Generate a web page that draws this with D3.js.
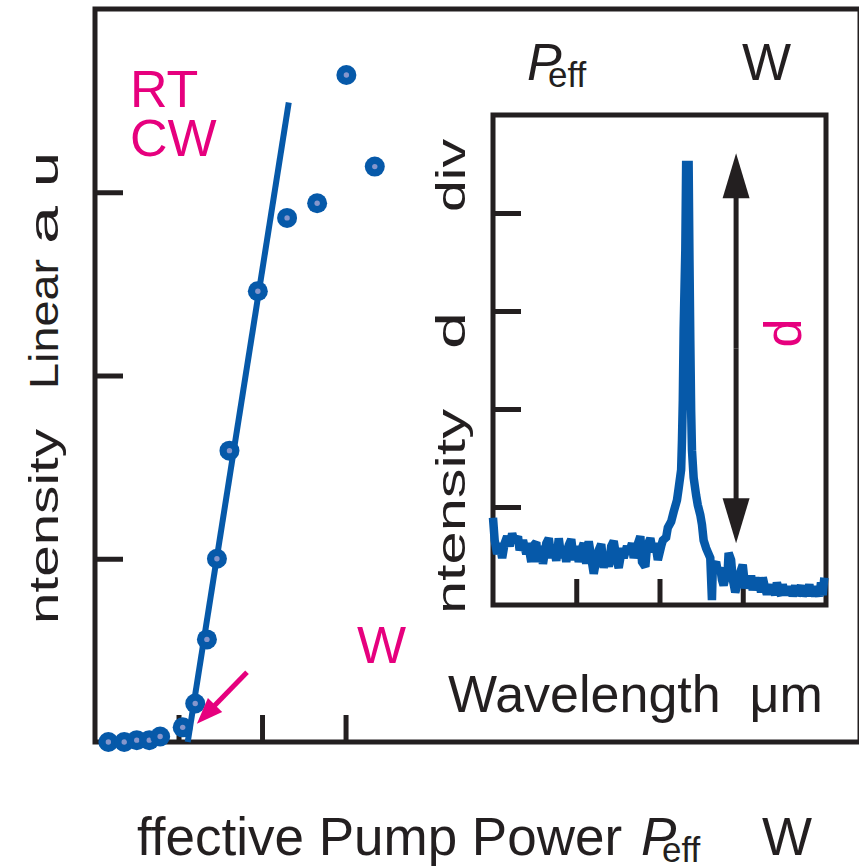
<!DOCTYPE html>
<html>
<head>
<meta charset="utf-8">
<script src="https://cdn.jsdelivr.net/npm/d3@7"></script>
<style>
  body { margin: 0; background: #fff; }
  svg { display: block; }
  text { font-family: "Liberation Sans", Arial, Helvetica, sans-serif; white-space: pre; }
</style>
</head>
<body>
<svg id="chart" width="859" height="867"></svg>
<script>
// ---- Main panel: L-L curve (effective pump power vs. output intensity) ----
const pumpPower = [0.16, 0.35, 0.50, 0.65, 0.78, 1.05, 1.20, 1.34, 1.46, 1.61, 1.95, 2.30, 2.66, 3.01, 3.35];
const outputIntensity = [0.00, 0.00, 0.01, 0.01, 0.03, 0.08, 0.21, 0.56, 1.00, 1.59, 2.46, 2.86, 2.94, 3.64, 3.14];
// linear fit above threshold
const fitPower = [1.11, 2.32];
const fitIntensity = [0.00, 3.49];
const mainXTicks = [1, 2, 3];
const mainYTicks = [1, 2, 3];
// threshold pointer (tail -> tip)
const thresholdArrowPower = [1.82, 1.22];
const thresholdArrowIntensity = [0.38, 0.10];

// ---- Inset: emission spectrum (intensity in divisions) ----
const wavelength = [
  0.00, 0.02, 0.05, 0.08, 0.11, 0.14, 0.17, 0.20, 0.23, 0.26, 0.30, 0.32, 0.36, 0.40, 0.42, 0.46,
  0.48, 0.52, 0.54, 0.58, 0.60, 0.64, 0.67, 0.70, 0.73, 0.76, 0.79, 0.82, 0.85, 0.88, 0.91, 0.94,
  0.97, 1.00, 1.03, 1.06, 1.09, 1.12, 1.15, 1.18, 1.21, 1.24, 1.27, 1.30, 1.33, 1.36, 1.39, 1.42,
  1.45, 1.49, 1.51, 1.55, 1.57, 1.61, 1.63, 1.67, 1.69, 1.73, 1.77, 1.79, 1.83, 1.85, 1.89, 1.92,
  1.95, 1.98, 2.02, 2.04, 2.08, 2.10, 2.14, 2.17, 2.21, 2.23, 2.26, 2.27, 2.28, 2.29, 2.31, 2.32,
  2.35, 2.36, 2.37, 2.38, 2.39, 2.41, 2.44, 2.46, 2.49, 2.51, 2.53, 2.56, 2.58, 2.61, 2.63, 2.64,
  2.68, 2.70, 2.73, 2.75, 2.77, 2.80, 2.82, 2.83, 2.86, 2.88, 2.91, 2.93, 2.95, 2.98, 3.00, 3.03,
  3.05, 3.08, 3.10, 3.12, 3.15, 3.17, 3.20, 3.22, 3.24, 3.27, 3.29, 3.32, 3.34, 3.36, 3.39, 3.41,
  3.44, 3.46, 3.48, 3.51, 3.53, 3.56, 3.58, 3.60, 3.63, 3.65, 3.68, 3.70, 3.72, 3.75, 3.77, 3.80,
  3.82, 3.84, 3.87, 3.89, 3.92, 3.94, 3.96, 3.98
];
const spectrum = [
  0.89, 0.66, 0.52, 0.63, 0.48, 0.63, 0.70, 0.60, 0.73, 0.64, 0.70, 0.56, 0.66, 0.52, 0.63, 0.44,
  0.60, 0.64, 0.44, 0.60, 0.42, 0.63, 0.68, 0.48, 0.60, 0.45, 0.68, 0.48, 0.60, 0.44, 0.61, 0.67,
  0.46, 0.60, 0.44, 0.56, 0.63, 0.42, 0.65, 0.48, 0.32, 0.46, 0.56, 0.62, 0.38, 0.52, 0.39, 0.60,
  0.65, 0.44, 0.38, 0.58, 0.48, 0.60, 0.52, 0.63, 0.48, 0.60, 0.70, 0.44, 0.39, 0.60, 0.68, 0.54,
  0.63, 0.46, 0.60, 0.66, 0.69, 0.79, 0.85, 0.95, 1.07, 1.19, 1.38, 1.68, 2.09, 2.81, 3.62, 4.49,
  4.49, 3.52, 2.70, 1.99, 1.58, 1.30, 1.12, 1.02, 0.92, 0.82, 0.66, 0.58, 0.54, 0.48, 0.05, 0.38,
  0.44, 0.34, 0.38, 0.26, 0.20, 0.31, 0.36, 0.53, 0.46, 0.26, 0.13, 0.19, 0.28, 0.36, 0.41, 0.17,
  0.26, 0.21, 0.30, 0.15, 0.28, 0.19, 0.23, 0.13, 0.28, 0.17, 0.11, 0.21, 0.11, 0.20, 0.10, 0.23,
  0.13, 0.10, 0.21, 0.10, 0.19, 0.10, 0.17, 0.09, 0.20, 0.10, 0.15, 0.20, 0.09, 0.17, 0.09, 0.21,
  0.10, 0.19, 0.09, 0.17, 0.09, 0.23, 0.10, 0.28
];
const insetXTicks = [1, 2, 3];
const insetYTicks = [1, 2, 3, 4];
// side-mode suppression marker (wavelength, from -> to)
const smsrWavelength = 2.92;
const smsrSpan = [0.63, 4.61];

const ink = "#231f20", blue = "#0659a9", dotCore = "#8696cc", pink = "#e6007e";
const svg = d3.select("#chart");

// ---------- main panel ----------
const x = d3.scaleLinear().domain([0, 9.16]).range([95, 860]);
const y = d3.scaleLinear().domain([0, 4]).range([742, 9]);

svg.append("rect")
  .attr("x", x(0)).attr("y", y(4))
  .attr("width", x(9.16) - x(0)).attr("height", y(0) - y(4))
  .attr("fill", "none").attr("stroke", ink).attr("stroke-width", 5);

function styleAxis(g) {
  g.select(".domain").remove();
  g.selectAll(".tick line").attr("stroke", ink).attr("stroke-width", 5);
}
svg.append("g").attr("transform", `translate(0,${y(0)})`)
  .call(d3.axisBottom(x).tickValues(mainXTicks).tickSize(-27).tickFormat(""))
  .call(styleAxis);
svg.append("g").attr("transform", `translate(${x(0)},0)`)
  .call(d3.axisLeft(y).tickValues(mainYTicks).tickSize(-28).tickFormat(""))
  .call(styleAxis);

// fit line
svg.append("line")
  .attr("x1", x(fitPower[0])).attr("y1", y(fitIntensity[0]))
  .attr("x2", x(fitPower[1])).attr("y2", y(fitIntensity[1]))
  .attr("stroke", blue).attr("stroke-width", 6);

// measured points
const pts = svg.append("g").selectAll("g")
  .data(pumpPower.map((p, i) => [p, outputIntensity[i]]))
  .join("g")
  .attr("transform", d => `translate(${x(d[0])},${y(d[1])})`);
pts.append("circle").attr("r", 10).attr("fill", blue);
pts.append("circle").attr("r", 2.7).attr("fill", dotCore);

// arrow helper
function arrow(g, x1, y1, x2, y2, color, width, headLen, headHalf) {
  const dx = x2 - x1, dy = y2 - y1, L = Math.hypot(dx, dy);
  const ux = dx / L, uy = dy / L;
  const bx = x2 - ux * headLen, by = y2 - uy * headLen;
  g.append("line").attr("x1", x1).attr("y1", y1).attr("x2", bx + ux * 2).attr("y2", by + uy * 2)
    .attr("stroke", color).attr("stroke-width", width);
  g.append("path")
    .attr("d", `M${x2},${y2}L${bx - uy * headHalf},${by + ux * headHalf}L${bx + uy * headHalf},${by - ux * headHalf}Z`)
    .attr("fill", color);
}
arrow(svg, x(thresholdArrowPower[0]), y(thresholdArrowIntensity[0]),
      x(thresholdArrowPower[1]), y(thresholdArrowIntensity[1]), pink, 5, 26, 10);

// labels
const big = 52;
svg.append("text").attr("x", 130).attr("y", 107).attr("font-size", big).attr("fill", pink).text("RT");
svg.append("text").attr("x", 130).attr("y", 156).attr("font-size", big).attr("fill", pink).text("CW");
svg.append("text").attr("x", 357).attr("y", 663).attr("font-size", big).attr("fill", pink).text("W");

svg.append("text").attr("x", 137).attr("y", 855).attr("font-size", 53).attr("fill", ink).text("ffective Pump Power");
svg.append("text").attr("x", 641).attr("y", 855).attr("font-size", 53).attr("font-style", "italic").attr("fill", ink).text("P");
svg.append("text").attr("x", 662).attr("y", 862).attr("font-size", 35).attr("fill", ink).text("eff");
svg.append("text").attr("x", 762).attr("y", 855).attr("font-size", 53).attr("fill", ink).text("W");

svg.append("text").attr("x", 527).attr("y", 80).attr("font-size", big).attr("font-style", "italic").attr("fill", ink).text("P");
svg.append("text").attr("x", 548).attr("y", 87).attr("font-size", 35).attr("fill", ink).text("eff");
svg.append("text").attr("x", 742).attr("y", 80).attr("font-size", big).attr("fill", ink).text("W");

// rotated titles: each word spans a fixed length, glyphs compressed across the reading direction
function vWord(str, xBase, yStart, len) {
  svg.append("text")
    .attr("transform", `translate(${xBase},${yStart}) rotate(-90) scale(1,0.76)`)
    .attr("font-size", 54).attr("fill", ink)
    .attr("textLength", len).attr("lengthAdjust", "spacingAndGlyphs")
    .text(str);
}
vWord("ntensity", 58, 624, 195);
vWord("Linear", 58, 389, 130);
vWord("a", 58, 244, 38);
vWord("u", 58, 187, 35);

// ---------- inset ----------
const xi = d3.scaleLinear().domain([0, 4]).range([493, 826]);
const yi = d3.scaleLinear().domain([0, 5]).range([605, 115]);

svg.append("rect")
  .attr("x", xi(0)).attr("y", yi(5))
  .attr("width", xi(4) - xi(0)).attr("height", yi(0) - yi(5))
  .attr("fill", "#fff").attr("stroke", ink).attr("stroke-width", 5);

svg.append("g").attr("transform", `translate(0,${yi(0)})`)
  .call(d3.axisBottom(xi).tickValues(insetXTicks).tickSize(-26).tickFormat(""))
  .call(styleAxis);
svg.append("g").attr("transform", `translate(${xi(0)},0)`)
  .call(d3.axisLeft(yi).tickValues(insetYTicks).tickSize(-28).tickFormat(""))
  .call(styleAxis);

svg.append("path")
  .datum(wavelength.map((w, i) => [w, spectrum[i]]))
  .attr("d", d3.line().x(d => xi(d[0])).y(d => yi(d[1])))
  .attr("fill", "none").attr("stroke", blue).attr("stroke-width", 8.5)
  .attr("stroke-linejoin", "miter").attr("stroke-miterlimit", 1.5);

// double-headed arrow
const ax = xi(smsrWavelength), ay0 = yi(smsrSpan[0]), ay1 = yi(smsrSpan[1]);
const mid = (ay0 + ay1) / 2;
arrow(svg, ax, mid, ax, ay1, ink, 5, 45, 13.5);
arrow(svg, ax, mid, ax, ay0, ink, 5, 45, 13.5);

svg.append("text")
  .attr("transform", "translate(801,333) rotate(-90)")
  .attr("text-anchor", "middle").attr("font-size", big).attr("fill", pink).text("d");

svg.append("text").attr("x", 448).attr("y", 712).attr("font-size", big).attr("fill", ink).text("Wavelength  \u03bcm");

vWord("ntensity", 465, 614, 205);
vWord("d", 465, 349, 37);
vWord("div", 465, 212, 73);
</script>
</body>
</html>
